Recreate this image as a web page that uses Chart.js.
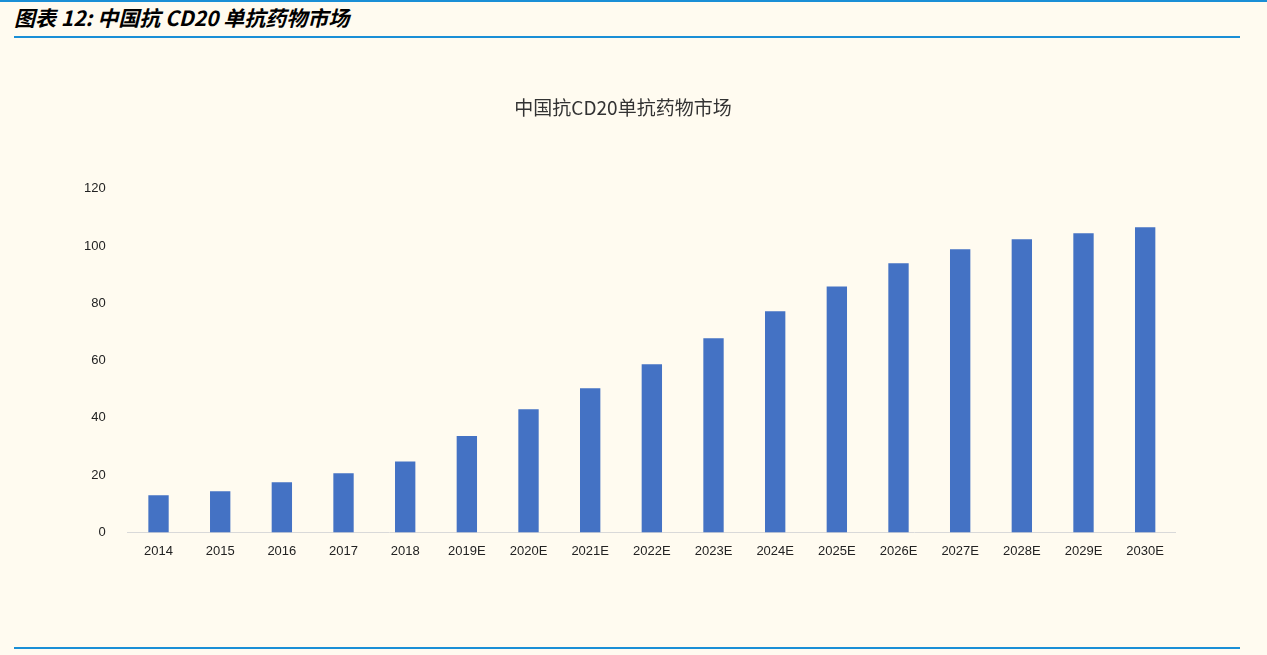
<!DOCTYPE html>
<html><head><meta charset="utf-8">
<script src="https://cdn.jsdelivr.net/npm/chart.js@4"></script>
<style>
html,body{margin:0;padding:0;background:#fffbf0;width:1267px;height:655px;overflow:hidden;font-family:"Noto Sans CJK SC",sans-serif}
#hdr{position:absolute;left:14px;top:2px;font-size:21px;font-weight:bold;font-style:italic;color:#000}
#top{position:absolute;left:0;top:0;width:1267px;height:2px;background:#1a8fd6}
#l1{position:absolute;left:14px;top:36px;width:1226px;height:2px;background:#1a8fd6}
#l2{position:absolute;left:14px;top:647px;width:1226px;height:2px;background:#1a8fd6}
#wrap{position:absolute;left:70px;top:88px;width:1106px;height:474px}
</style></head><body>
<div id="top"></div>
<div id="hdr">图表 12: 中国抗 CD20 单抗药物市场</div>
<div id="l1"></div>
<div id="wrap"><canvas id="c"></canvas></div>
<div id="l2"></div>
<script>
const categories=["2014","2015","2016","2017","2018","2019E","2020E","2021E","2022E","2023E","2024E","2025E","2026E","2027E","2028E","2029E","2030E"];
const values=[13,14.4,17.5,20.7,24.8,33.7,43,50.3,58.7,67.8,77.2,85.9,94,98.9,102.4,104.5,106.6];
const yTicks=[0,20,40,60,80,100,120];
new Chart(document.getElementById('c'),{
type:'bar',
data:{labels:categories,datasets:[{data:values,backgroundColor:'#4472c4',categoryPercentage:0.6,barPercentage:0.55}]},
options:{responsive:true,maintainAspectRatio:false,animation:false,
layout:{padding:{top:8,left:0,right:0,bottom:0}},
plugins:{legend:{display:false},tooltip:{enabled:false},
title:{display:true,text:'中国抗CD20单抗药物市场',color:'#333',font:{size:19,family:'"Noto Sans CJK SC"',weight:'normal'},padding:{top:0,bottom:70}}},
scales:{
x:{grid:{display:false},border:{color:'#d9d9d9'},ticks:{color:'#222',font:{size:13,family:'Liberation Sans'}}},
y:{min:0,max:120,afterBuildTicks:a=>{a.ticks=yTicks.map(v=>({value:v}))},grid:{display:false},border:{display:false},ticks:{color:'#222',padding:14,font:{size:13,family:'Liberation Sans'}}}
}}});
</script></body></html>
